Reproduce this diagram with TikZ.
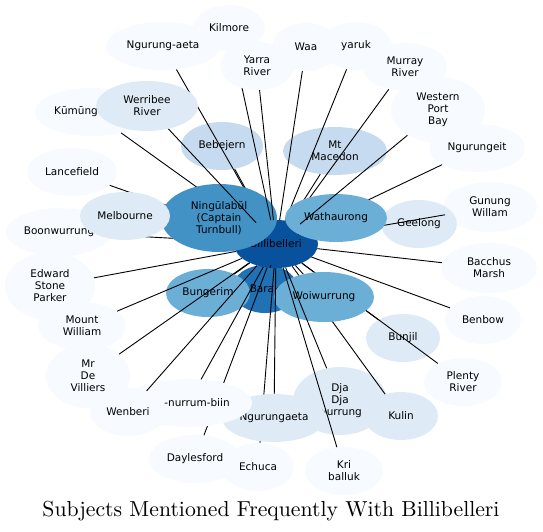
\documentclass[tikz,border=0pt]{standalone}
\usepackage{fontspec}
\newfontfamily\nodefont{DejaVu Sans}
\usetikzlibrary{shapes.geometric}
\definecolor{b0}{HTML}{F7FBFF}
\definecolor{b1}{HTML}{DEEBF7}
\definecolor{b2}{HTML}{C6DBEF}
\definecolor{b4}{HTML}{6BAED6}
\definecolor{b5}{HTML}{4292C6}
\definecolor{b6}{HTML}{2171B5}
\definecolor{b7}{HTML}{08519C}
\pgfdeclarelayer{nA}
\pgfdeclarelayer{eA}
\pgfdeclarelayer{nB}
\pgfdeclarelayer{eB}
\pgfdeclarelayer{nC}
\pgfsetlayers{nA,eA,nB,eB,nC,main}
\begin{document}
\begin{tikzpicture}[x=1pt,y=-1pt,
  bub/.style={ellipse, inner sep=0pt, align=center, text=black,
    font=\nodefont\fontsize{10.5}{12}\selectfont},
  sz/.style 2 args={minimum width=#1pt, minimum height=#2pt},
  link/.style={draw=black, line width=0.9pt}]
\useasboundingbox (0,0) rectangle (543,532);

\begin{pgfonlayer}{nA}
\node[bub,sz={114}{48},fill=b0] (ngaeta) at (163,46) {Ngurung-aeta};
\node[bub,sz={72}{46},fill=b0] (kilmore) at (229,28) {Kilmore};
\node[bub,sz={114}{48},fill=b0] (kumung) at (92,112) {Kūmūng\hspace*{32pt}};
\node[bub,sz={90}{48},fill=b0] (lancefield) at (72,172) {Lancefield};
\node[bub,sz={106}{48},fill=b0] (boon) at (59,232) {Boonwurrung};
\node[bub,sz={90}{68},fill=b0] (esp) at (50,286) {Edward\\Stone\\Parker};
\node[bub,sz={88}{48},fill=b0] (mountwilliam) at (82,326) {Mount\\William};
\node[bub,sz={84}{64},fill=b0] (mrdv) at (88,376) {Mr\\De\\Villiers};
\node[bub,sz={92}{48},fill=b0] (daylesford) at (195,459) {Daylesford};
\node[bub,sz={72}{48},fill=b0] (echuca) at (258,467) {Echuca};
\node[bub,sz={78}{48},fill=b0] (kri) at (344,471) {Kri\\balluk};
\node[bub,sz={78}{48},fill=b0] (plenty) at (463,382) {Plenty\\River};
\node[bub,sz={76}{48},fill=b0] (benbow) at (483,320) {Benbow};
\node[bub,sz={96}{50},fill=b0] (bacchus) at (489,268) {Bacchus\\Marsh};
\node[bub,sz={94}{50},fill=b0] (gunung) at (490,207) {Gunung\\Willam};
\node[bub,sz={96}{48},fill=b0] (ngurungeit) at (477,148) {Ngurungeit};
\node[bub,sz={94}{66},fill=b0] (wpb) at (438,110) {Western\\Port\\Bay};
\node[bub,sz={84}{48},fill=b0] (murray) at (405,67) {Murray\\River};
\node[bub,sz={72}{48},fill=b0] (yaruk) at (356,46) {yaruk};
\node[bub,sz={68}{48},fill=b0] (waa) at (306,47) {Waa};
\node[bub,sz={76}{48},fill=b1] (geelong) at (419,224) {Geelong};
\node[bub,sz={74}{48},fill=b1] (bunjil) at (403,338) {Bunjil};
\node[bub,sz={74}{48},fill=b1] (kulin) at (401,416) {Kulin};
\node[bub,sz={94}{68},fill=b1] (djadja) at (340,401) {Dja\\Dja\\wurrung};
\node[bub,sz={104}{48},fill=b2] (macedon) at (335,151) {Mt\\Macedon};
\node[bub,sz={82}{48},fill=b2] (bebejern) at (222,146) {Bebejern};
\node[bub,sz={66}{48},fill=b6] (barak) at (265,289) {Barak};
\node[bub,sz={84}{48},fill=b4] (bungerim) at (208,293) {Bungerim};
\node[bub,sz={84}{48},fill=b7] (bill) at (276,244) {Billibelleri};
\end{pgfonlayer}

\begin{pgfonlayer}{nB}
\node[bub,sz={116}{68},fill=b5] (ningulabul) at (219,218) {Ningūlabŭl\\(Captain\\Turnbull)};
\node[bub,sz={90}{48},fill=b1] (melbourne) at (125,216) {Melbourne};
\node[bub,sz={102}{50},fill=b1] (werribee) at (147,106) {Werribee\\River};
\end{pgfonlayer}

\begin{pgfonlayer}{nC}
\node[bub,sz={74}{48},fill=b0] (yarra) at (257,66) {Yarra\\River};
\node[bub,sz={102}{48},fill=b4] (wathaurong) at (336,218) {Wathaurong};
\node[bub,sz={100}{50},fill=b4] (woiwurrung) at (324,297) {Woiwurrung};
\node[bub,sz={104}{48},fill=b1] (ngurungaeta) at (274,418) {Ngurungaeta};
\node[bub,sz={128}{48},fill=b0] (nurrum) at (188,403) {\hspace*{18pt}-nurrum-biin};
\node[bub,sz={76}{48},fill=b0] (wenberi) at (128,412) {Wenberi};
\end{pgfonlayer}

\begin{pgfonlayer}{eA}
\foreach \t in {ngaeta,kumung,lancefield,boon,bebejern,ngurungeit,gunung,murray,yaruk,macedon,plenty,bunjil,kulin,daylesford,echuca,ningulabul,melbourne,wathaurong,woiwurrung,barak,bungerim}
  \draw[link] (bill) -- (\t);
\end{pgfonlayer}

\begin{pgfonlayer}{eB}
\draw[link] (bill) -- (kilmore);
\end{pgfonlayer}

\foreach \t in {werribee,yarra,waa,wpb,esp,mountwilliam,mrdv,wenberi,nurrum,ngurungaeta,djadja,kri,bacchus,benbow}
  \draw[link] (bill) -- (\t);

\node (title) at (271,511) {\resizebox{457pt}{!}{Subjects Mentioned Frequently With Billibelleri}};
\end{tikzpicture}
\end{document}
